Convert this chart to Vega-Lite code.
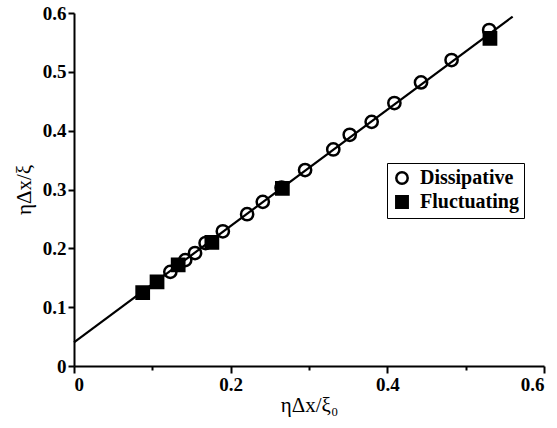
{
  "$schema": "https://vega.github.io/schema/vega-lite/v6.json",
  "width": 470,
  "height": 353,
  "autosize": {"type": "none"},
  "padding": {"left": 74, "top": 13, "right": 13, "bottom": 62},
  "background": "white",
  "config": {
    "view": {"stroke": null},
    "font": "Liberation Serif",
    "axis": {
      "domainColor": "black",
      "domainWidth": 2,
      "tickColor": "black",
      "tickWidth": 2,
      "grid": false,
      "labelFont": "Liberation Serif",
      "labelFontSize": 19,
      "labelFontWeight": "bold",
      "labelColor": "black",
      "titleFont": "Liberation Serif",
      "titleFontSize": 21,
      "titleFontWeight": "normal",
      "titleColor": "black"
    }
  },
  "datasets": {
    "pts": [
      {"x": 0.123, "y": 0.160, "series": "Dissipative"},
      {"x": 0.142, "y": 0.180, "series": "Dissipative"},
      {"x": 0.1545, "y": 0.192, "series": "Dissipative"},
      {"x": 0.168, "y": 0.209, "series": "Dissipative"},
      {"x": 0.190, "y": 0.229, "series": "Dissipative"},
      {"x": 0.221, "y": 0.258, "series": "Dissipative"},
      {"x": 0.241, "y": 0.279, "series": "Dissipative"},
      {"x": 0.265, "y": 0.303, "series": "Dissipative"},
      {"x": 0.295, "y": 0.333, "series": "Dissipative"},
      {"x": 0.331, "y": 0.368, "series": "Dissipative"},
      {"x": 0.352, "y": 0.393, "series": "Dissipative"},
      {"x": 0.380, "y": 0.415, "series": "Dissipative"},
      {"x": 0.409, "y": 0.447, "series": "Dissipative"},
      {"x": 0.443, "y": 0.482, "series": "Dissipative"},
      {"x": 0.482, "y": 0.520, "series": "Dissipative"},
      {"x": 0.530, "y": 0.571, "series": "Dissipative"},
      {"x": 0.0877, "y": 0.1247, "series": "Fluctuating"},
      {"x": 0.106, "y": 0.143, "series": "Fluctuating"},
      {"x": 0.133, "y": 0.172, "series": "Fluctuating"},
      {"x": 0.176, "y": 0.210, "series": "Fluctuating"},
      {"x": 0.266, "y": 0.302, "series": "Fluctuating"},
      {"x": 0.531, "y": 0.557, "series": "Fluctuating"}
    ],
    "fit": [
      {"x": 0, "y": 0.04},
      {"x": 0.56, "y": 0.594}
    ]
  },
  "layer": [
    {
      "data": {"name": "fit"},
      "mark": {"type": "line", "color": "black", "strokeWidth": 2.2},
      "encoding": {
        "x": {
          "field": "x", "type": "quantitative",
          "scale": {"domain": [0, 0.6], "nice": false},
          "axis": {
            "title": "ηΔx/ξ₀",
            "values": [0, 0.1, 0.2, 0.3, 0.4, 0.5, 0.6],
            "format": ".1~f",
            "labelExpr": "round(datum.value*10) % 2 == 0 ? datum.label : ''",
            "tickSize": {"condition": {"test": "round(datum.value*10) % 2 == 1", "value": 4}, "value": 7},
            "labelPadding": 2,
            "titlePadding": 0
          }
        },
        "y": {
          "field": "y", "type": "quantitative",
          "scale": {"domain": [0, 0.6], "nice": false},
          "axis": {
            "title": "ηΔx/ξ",
            "values": [0, 0.1, 0.2, 0.3, 0.4, 0.5, 0.6],
            "format": ".1~f",
            "tickSize": 6,
            "labelPadding": 2,
            "titlePadding": 8
          }
        }
      }
    },
    {
      "data": {"name": "pts"},
      "mark": {"type": "point", "filled": true, "strokeWidth": 2.5, "size": 150, "opacity": 1},
      "encoding": {
        "x": {"field": "x", "type": "quantitative"},
        "y": {"field": "y", "type": "quantitative"},
        "shape": {
          "field": "series", "type": "nominal",
          "scale": {"domain": ["Dissipative", "Fluctuating"], "range": ["circle", "square"]},
          "legend": {
            "title": null,
            "orient": "none",
            "legendX": 313,
            "legendY": 150,
            "strokeColor": "black",
            "padding": 5,
            "symbolSize": 130,
            "symbolStrokeWidth": 2.5,
            "labelFont": "Liberation Serif",
            "labelFontSize": 20,
            "labelFontWeight": "bold",
            "labelColor": "black",
            "rowPadding": 2,
            "labelOffset": 8,
            "fillColor": "white"
          }
        },
        "fill": {
          "field": "series", "type": "nominal",
          "scale": {"domain": ["Dissipative", "Fluctuating"], "range": ["transparent", "black"]}
        },
        "stroke": {
          "field": "series", "type": "nominal",
          "scale": {"domain": ["Dissipative", "Fluctuating"], "range": ["black", "black"]}
        }
      }
    }
  ]
}
